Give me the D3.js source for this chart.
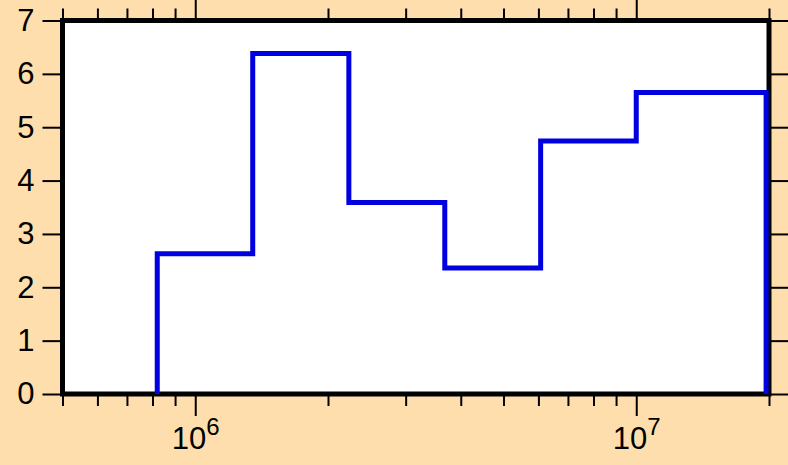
<!DOCTYPE html>
<html>
<head>
<meta charset="utf-8">
<script src="https://cdn.jsdelivr.net/npm/d3@7"></script>
<style>
  body { margin: 0; background: #ffdead; }
  svg { display: block; }
  text { font-family: "Liberation Sans", Arial, sans-serif; fill: #000; }
</style>
</head>
<body>
<div id="chart"></div>
<script>
// histogram bins (log x)
const binEdges = [8.2e5, 1.35e6, 2.23e6, 3.68e6, 6.07e6, 1.0e7, 1.97e7];
const counts = [2.63, 6.38, 3.59, 2.36, 4.74, 5.65];

const xDomain = [5e5, 2e7];
const yDomain = [0, 7];
const yTicks = [0, 1, 2, 3, 4, 5, 6, 7];
const xMajor = [1e6, 1e7];
const xMajorExp = ["6", "7"];
const xMinor = [5e5, 6e5, 7e5, 8e5, 9e5, 2e6, 3e6, 4e6, 5e6, 6e6, 7e6, 8e6, 9e6, 2e7];

const width = 788;
const height = 465;
const plotL = 62.5, plotR = 769, plotT = 20.5, plotB = 394;

const svg = d3.select("#chart").append("svg")
    .attr("width", width)
    .attr("height", height);

svg.append("rect")
    .attr("width", width)
    .attr("height", height)
    .attr("fill", "#ffdead");

const x = d3.scaleLog().domain(xDomain).range([plotL, plotR]);
const y = d3.scaleLinear().domain(yDomain).range([plotB, plotT]);

// plot background
svg.append("rect")
    .attr("x", plotL).attr("y", plotT)
    .attr("width", plotR - plotL).attr("height", plotB - plotT)
    .attr("fill", "#fff");

function styleAxis(g) {
    g.select(".domain").remove();
    g.selectAll(".tick line").attr("stroke", "#000").attr("stroke-width", 2);
}

// x axes, bottom and top
svg.append("g").attr("transform", `translate(0,${plotB})`)
    .call(d3.axisBottom(x).tickValues(xMinor).tickSize(12).tickFormat("")).call(styleAxis);
svg.append("g").attr("transform", `translate(0,${plotT})`)
    .call(d3.axisTop(x).tickValues(xMinor).tickSize(12).tickFormat("")).call(styleAxis);

const gMaj = svg.append("g").attr("transform", `translate(0,${plotB})`)
    .call(d3.axisBottom(x).tickValues(xMajor).tickSize(22).tickFormat("")).call(styleAxis);
svg.append("g").attr("transform", `translate(0,${plotT})`)
    .call(d3.axisTop(x).tickValues(xMajor).tickSize(22).tickFormat("")).call(styleAxis);

gMaj.selectAll(".tick").each(function (d, i) {
    const t = d3.select(this).append("text")
        .attr("y", 55)
        .attr("text-anchor", "middle")
        .attr("font-size", 31)
        .attr("fill", "#000");
    t.append("tspan").text("10");
    t.append("tspan").attr("dy", -14).attr("font-size", 24).text(xMajorExp[i]);
});

// y axes, left and right
const gy = svg.append("g").attr("transform", `translate(${plotL},0)`)
    .call(d3.axisLeft(y).tickValues(yTicks).tickSize(20).tickPadding(8).tickFormat(d3.format("d")))
    .call(styleAxis);
gy.selectAll(".tick text")
    .attr("font-size", 31)
    .attr("font-family", "Liberation Sans, Arial, sans-serif")
    .attr("fill", "#000");
svg.append("g").attr("transform", `translate(${plotR},0)`)
    .call(d3.axisRight(y).tickValues(yTicks).tickSize(20).tickFormat("")).call(styleAxis);

// frame
svg.append("rect")
    .attr("x", plotL).attr("y", plotT)
    .attr("width", plotR - plotL).attr("height", plotB - plotT)
    .attr("fill", "none")
    .attr("stroke", "#000")
    .attr("stroke-width", 5);

// step outline
const pts = [[binEdges[0], 0]];
counts.forEach((c, i) => {
    pts.push([binEdges[i], c]);
    pts.push([binEdges[i + 1], c]);
});
pts.push([binEdges[binEdges.length - 1], 0]);

svg.append("path")
    .datum(pts)
    .attr("fill", "none")
    .attr("stroke", "#0000e0")
    .attr("stroke-width", 5)
    .attr("stroke-linejoin", "miter")
    .attr("d", d3.line().x(d => x(d[0])).y(d => y(d[1])));
</script>
</body>
</html>
